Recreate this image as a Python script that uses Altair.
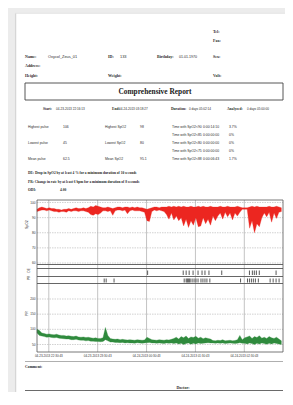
import altair as alt
import pandas as pd

# ---------------- data ----------------
SAMPLE_STEP_MIN = 3  # one sample every 3 minutes of recording

SPO2_HI = [95.5, 96.5, 97, 96.5, 96, 96.5, 96, 96,
           95.5, 95.5, 95, 95.5, 95.5, 96, 95.5,
           96, 96.5, 96, 96, 96.5, 96, 96.5,
           97.5, 97, 98, 97.5, 97,
           96.5, 96.5, 97, 96.5, 96, 96.5,
           97, 97, 96.5, 97, 97, 96.5, 97, 96.5,
           97, 96.5, 96.5, 96, 95.5, 96,
           96.5, 97, 97, 96.5, 97, 97,
           97, 97.5, 97, 97.5, 97, 97.5,
           97, 97.5, 97, 97, 97.5, 97, 97, 97.5,
           97, 97.5, 97, 97, 97.5, 97, 97,
           97, 97.5, 97, 97, 97.5, 97, 97, 97, 97.5, 97,
           96.5, 96.5, 96.5,
           97, 97.5, 97, 97.5, 97, 97,
           97, 97, 97.5, 97, 97, 97.5, 97, 96.5]

SPO2_LO = [94, 94.5, 95, 95, 94.5, 95, 94.5, 94,
           94, 93.5, 94, 94, 93.5, 94.5, 94,
           94.5, 94.5, 94, 94.5, 94.5, 94, 93.5,
           92, 91.5, 92.5, 92, 93,
           94.5, 94.5, 94, 94.5, 91.5, 94.5,
           95, 95, 94.5, 95, 92.5, 94.5, 95, 94.5,
           94.5, 94.5, 94, 93.5, 88, 87.5,
           94, 95, 94.5, 95, 94.5, 94,
           92, 89, 93, 88.5, 91, 88,
           90, 84.5, 89, 83.5, 88, 85, 90, 84,
           84.5, 90, 86, 89, 85, 91, 88,
           91, 93, 89, 93.5, 90.5, 93, 88.5, 93, 91, 93.5,
           95.5, 95.5, 95.5,
           83, 88, 80, 86, 84, 90,
           93, 90.5, 93.5, 87, 93, 89.5, 93.5, 94]

PULSE_HI = [100, 96, 88, 86,
            84, 85, 83, 82, 84, 81, 80,
            80, 78, 79, 77, 76, 78, 75, 74,
            75, 73, 74, 72, 71, 72, 70, 70,
            72, 106, 80, 70,
            68, 67, 68, 66, 67, 66, 65, 66, 65, 64, 66, 65, 64, 65,
            74, 70, 66,
            65, 64, 66, 65, 64, 66, 65, 67,
            70, 74, 68, 76, 72, 78, 70, 75, 73, 77, 71, 74, 69, 72, 70, 68,
            63, 62, 64, 63, 66, 62, 63, 64, 62, 63,
            66, 80, 66,
            72, 75, 78, 70, 76, 73, 79, 71, 74, 70, 76, 72, 70, 74, 68, 62]

PULSE_LO = [88, 80, 78, 76,
            74, 75, 73, 72, 73, 71, 70,
            69, 68, 68, 66, 66, 67, 65, 64,
            64, 62, 63, 61, 61, 60, 60, 59,
            60, 66, 62, 58,
            58, 57, 57, 56, 57, 55, 56, 55, 55, 54, 56, 55, 54, 55,
            56, 57, 55,
            55, 54, 55, 54, 53, 55, 54, 55,
            53, 55, 52, 54, 50, 53, 55, 51, 54, 52, 55, 53, 54, 55, 56, 55,
            55, 54, 55, 54, 55, 53, 54, 55, 54, 53,
            54, 56, 54,
            54, 52, 55, 53, 50, 54, 52, 55, 53, 51, 54, 52, 55, 53, 52, 50]

DE_EVENTS_MIN = [135.8, 179.5, 183.1, 186.8, 191.6, 197.7, 202.6, 206.2, 211.1,
                 226.8, 260.8, 264.4, 266.8, 269.3, 272.9, 293.5]
PR_EVENTS_MIN = [82.5, 84.9, 94.6, 180.7, 183.1, 184.4, 185.6, 186.8, 188.0, 190.4,
                 192.8, 195.2, 197.7, 201.3, 203.7, 206.2, 208.6, 212.2, 249.9,
                 258.4, 260.8, 263.2, 265.6, 268.1, 271.7, 286.2, 289.9, 293.5, 297.2]

SPO2_TICKS = [100, 90, 80, 70, 60]
PULSE_TICKS = [200, 150, 100, 50]
TIME_TICKS_MIN = [14.5, 74.5, 134.5, 194.5, 254.5]
TIME_TICK_LABELS = ["04-23-2013 22:30:43", "04-23-2013 23:30:43", "04-24-2013 00:30:43",
                    "04-24-2013 01:30:43", "04-24-2013 02:30:43"]

# ---------------- layout ----------------
LEFT, TOP, W, H = 15, 13, 270, 379
PANEL_L, PANEL_R = 37, 283
MIN_SPAN = 302
RED = "#ec2620"
GREEN = "#2f8a3d"
INK = "#2a2a2a"


def px(x):
    return x - LEFT


def py(y):
    return y - TOP


k_x = (PANEL_R - PANEL_L) / MIN_SPAN
X_DOMAIN = [-(PANEL_L - LEFT) / k_x, MIN_SPAN + (LEFT + W - PANEL_R) / k_x]


def y_domain(va, ya, vb, yb):
    k = (yb - ya) / (va - vb)
    return [va - (TOP + H - ya) / k, va + (ya - TOP) / k]


SPO2_DOM = y_domain(100, 202.5, 60, 263)
PULSE_DOM = y_domain(200, 299, 50, 344.5)

xs = alt.Scale(domain=X_DOMAIN, nice=False, zero=False)
ys_spo2 = alt.Scale(domain=SPO2_DOM, nice=False, zero=False)
ys_pulse = alt.Scale(domain=PULSE_DOM, nice=False, zero=False)

one = pd.DataFrame({"k": [0]})
L = []


def T(s, x, y, size=3.6, bold=False, serif=False, align="left", angle=None, color=INK):
    kw = dict(align=align, baseline="middle", fontSize=size,
              fontWeight="bold" if bold else "normal",
              font="Liberation Serif" if serif else "Liberation Sans", color=color)
    if angle is not None:
        kw["angle"] = angle
    L.append(alt.Chart(one).mark_text(**kw).encode(
        x=alt.value(px(x)), y=alt.value(py(y)), text=alt.value(s)))


def HL(y, x1, x2, color="#555", w=0.8, dash=None):
    kw = dict(color=color, strokeWidth=w)
    if dash:
        kw["strokeDash"] = dash
    L.append(alt.Chart(one).mark_rule(**kw).encode(
        x=alt.value(px(x1)), x2=alt.value(px(x2)), y=alt.value(py(y))))


def VL(x, y1, y2, color="#555", w=0.8):
    L.append(alt.Chart(one).mark_rule(color=color, strokeWidth=w).encode(
        x=alt.value(px(x)), y=alt.value(py(y1)), y2=alt.value(py(y2))))


def BOX(x1, y1, x2, y2, color="#444", w=0.8):
    L.append(alt.Chart(one).mark_rect(filled=False, stroke=color, strokeWidth=w).encode(
        x=alt.value(px(x1)), x2=alt.value(px(x2)), y=alt.value(py(y1)), y2=alt.value(py(y2))))


# paper edge shading
VL(15.6, 13, 392, color="#d6d6d6", w=1.3)
HL(13.4, 15, 285, color="#e2e2e2", w=0.8)

# ---------------- header ----------------
T("Tel:", 213, 32, 4, bold=True, serif=True)
T("Fax:", 213, 41, 4, bold=True, serif=True)
T("Name:", 25, 57, 4, bold=True, serif=True)
T("Oxycol_Zeus_01", 48, 57, 3.9)
T("ID:", 108, 57, 4, bold=True, serif=True)
T("133", 120, 57, 3.9)
T("Birthday:", 157, 57, 4, bold=True, serif=True)
T("01.01.1970", 179, 57, 3.6)
T("Sex:", 213, 57, 4, bold=True, serif=True)
T("Address:", 25, 66, 4, bold=True, serif=True)
T("Height:", 25, 76, 4, bold=True, serif=True)
T("Weight:", 108, 76, 4, bold=True, serif=True)
T("Volt:", 213, 76, 4, bold=True, serif=True)

BOX(25, 83, 283, 100, color="#444", w=0.9)
T("Comprehensive Report", 155, 92, 7.4, bold=True, serif=True, align="center", color="#1a1a1a")

T("Start:", 43, 108.5, 3.6, bold=True, serif=True)
T("04-23-2013 22:16:13", 56, 108.5, 3.1)
T("End:", 112, 108.5, 3.6, bold=True, serif=True)
T("04-24-2013 03:18:27", 119, 108.5, 3.1)
T("Duration:", 171, 108.5, 3.6, bold=True, serif=True)
T("0 days 05:02:14", 189, 108.5, 3.1)
T("Analyzed:", 227, 108.5, 3.6, bold=True, serif=True)
T("0 days 05:00:00", 247, 108.5, 3.1)

rows = [
    (127, "Highest pulse", "106", "Highest SpO2", "98", "Time with SpO2<90", "0:00:14:10", "3.7%"),
    (135, None, None, None, None, "Time with SpO2<85", "0:00:00:00", "0%"),
    (143, "Lowest pulse", "45", "Lowest SpO2", "80", "Time with SpO2<80", "0:00:00:00", "0%"),
    (151, None, None, None, None, "Time with SpO2<75", "0:00:00:00", "0%"),
    (159, "Mean pulse", "62.5", "Mean SpO2", "95.1", "Time with SpO2<88", "0:00:06:43", "1.7%"),
]
for (yy, a, av, b, bv, c, cv, cp) in rows:
    if a:
        T(a, 28, yy, 3.4)
        T(av, 63, yy, 3.4)
        T(b, 105, yy, 3.4)
        T(bv, 140, yy, 3.4)
    T(c, 172, yy, 3.4)
    T(cv, 203, yy, 3.4)
    T(cp, 229, yy, 3.4)

T("DE: Drop in SpO2 by at least 4 % for a minimum duration of 10 seconds", 28, 172.5, 3.5, bold=True, serif=True)
T("PR: Change in rate by at least 6 bpm for a minimum duration of 8 seconds", 28, 181.5, 3.5, bold=True, serif=True)
T("ODI:", 28, 190, 3.6, bold=True, serif=True)
T("4.00", 60, 190, 3.6, bold=True, serif=True)

# ---------------- chart panels ----------------
grid_df = pd.DataFrame({"m": TIME_TICKS_MIN, "lab": TIME_TICK_LABELS})
L.append(alt.Chart(grid_df).mark_rule(color="#9a9a9a", strokeWidth=0.6).encode(
    x=alt.X("m:Q", scale=xs, axis=None), y=alt.value(py(200)), y2=alt.value(py(352))))

spo2_ticks_df = pd.DataFrame({"v": SPO2_TICKS, "lab": [str(v) for v in SPO2_TICKS]})
L.append(alt.Chart(spo2_ticks_df).mark_rule(color="#b4b4b4", strokeWidth=0.6, strokeDash=[1.5, 1]).encode(
    y=alt.Y("v:Q", scale=ys_spo2, axis=None), x=alt.value(px(PANEL_L)), x2=alt.value(px(PANEL_R))))
L.append(alt.Chart(spo2_ticks_df).mark_text(align="right", baseline="middle", fontSize=3.2,
                                             font="Liberation Sans", color="#333").encode(
    y=alt.Y("v:Q", scale=ys_spo2, axis=None), x=alt.value(px(35.5)), text="lab:N"))

pulse_ticks_df = pd.DataFrame({"v": PULSE_TICKS, "lab": [str(v) for v in PULSE_TICKS]})
L.append(alt.Chart(pulse_ticks_df).mark_rule(color="#b4b4b4", strokeWidth=0.6, strokeDash=[1.5, 1]).encode(
    y=alt.Y("v:Q", scale=ys_pulse, axis=None), x=alt.value(px(PANEL_L)), x2=alt.value(px(PANEL_R))))
L.append(alt.Chart(pulse_ticks_df).mark_text(align="right", baseline="middle", fontSize=3.2,
                                              font="Liberation Sans", color="#333").encode(
    y=alt.Y("v:Q", scale=ys_pulse, axis=None), x=alt.value(px(35.5)), text="lab:N"))

minutes = [i * SAMPLE_STEP_MIN for i in range(len(SPO2_HI))]
spo2_df = pd.DataFrame({"m": minutes, "hi": SPO2_HI, "lo": SPO2_LO})
L.append(alt.Chart(spo2_df).mark_area(color=RED, stroke=RED, strokeWidth=0.3, opacity=1).encode(
    x=alt.X("m:Q", scale=xs, axis=None),
    y=alt.Y("hi:Q", scale=ys_spo2, axis=None), y2="lo:Q"))

pminutes = [i * SAMPLE_STEP_MIN for i in range(len(PULSE_HI))]
pulse_df = pd.DataFrame({"m": pminutes, "hi": PULSE_HI, "lo": PULSE_LO})
L.append(alt.Chart(pulse_df).mark_area(color=GREEN, stroke=GREEN, strokeWidth=0.3, opacity=1).encode(
    x=alt.X("m:Q", scale=xs, axis=None),
    y=alt.Y("hi:Q", scale=ys_pulse, axis=None), y2="lo:Q"))

de_df = pd.DataFrame({"m": DE_EVENTS_MIN})
L.append(alt.Chart(de_df).mark_rule(color="#111", strokeWidth=0.7).encode(
    x=alt.X("m:Q", scale=xs, axis=None), y=alt.value(py(270.5)), y2=alt.value(py(275))))
pr_df = pd.DataFrame({"m": PR_EVENTS_MIN})
L.append(alt.Chart(pr_df).mark_rule(color="#111", strokeWidth=0.7).encode(
    x=alt.X("m:Q", scale=xs, axis=None), y=alt.value(py(278.5)), y2=alt.value(py(282.5))))

# frames
BOX(PANEL_L, 200, PANEL_R, 352, color="#555", w=0.8)
HL(264.5, PANEL_L, PANEL_R, color="#555", w=0.9)
HL(268.5, PANEL_L, PANEL_R, color="#555", w=0.9)
HL(276.5, PANEL_L, PANEL_R, color="#555", w=0.9)
HL(283.5, PANEL_L, PANEL_R, color="#555", w=0.9)

# axis titles
T("SpO2", 27, 229, 3.4, angle=270)
T("DE", 29, 272.5, 3.0, angle=270)
T("PR", 29, 280, 3.0, angle=270)
T("PR", 27, 316, 3.4, angle=270)

L.append(alt.Chart(grid_df).mark_text(align="center", baseline="middle", fontSize=3.0,
                                       font="Liberation Sans", color="#333").encode(
    x=alt.X("m:Q", scale=xs, axis=None), y=alt.value(py(356)), text="lab:N"))

# ---------------- footer ----------------
HL(361.5, 25, 283, color="#9a9a9a", w=0.8)
T("Comment:", 25, 367, 3.8, bold=True, serif=True)
T("Doctor:", 183, 387.5, 4, bold=True, serif=True, align="center")
HL(390.5, 25, 283, color="#444", w=0.8)

chart = alt.layer(*L).resolve_scale(y="independent").properties(
    width=W, height=H,
    autosize=alt.AutoSizeParams(type="none"),
    padding={"left": LEFT - 8, "top": TOP - 8, "right": 0, "bottom": 0},
    background="#ececec",
).configure_view(fill="white", strokeOpacity=0)

chart.save("out.html", embed_options={"renderer": "svg", "actions": False})
